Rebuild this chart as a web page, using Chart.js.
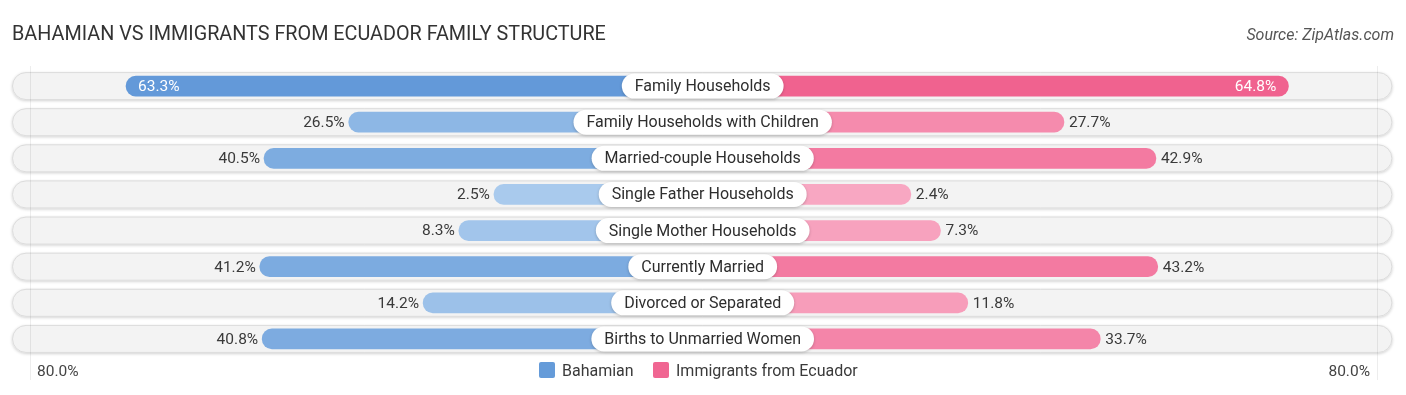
<!DOCTYPE html>
<html>
<head>
<meta charset="utf-8">
<script src="https://cdn.jsdelivr.net/npm/chart.js@4.4.1/dist/chart.umd.min.js"></script>
<style>
  html, body { margin: 0; padding: 0; background: #fff; }
  #wrap { position: relative; width: 1406px; height: 395px; }
</style>
</head>
<body>
<div id="wrap"><canvas id="c" width="1406" height="395"></canvas></div>
<script>
const categories = [
  "Family Households",
  "Family Households with Children",
  "Married-couple Households",
  "Single Father Households",
  "Single Mother Households",
  "Currently Married",
  "Divorced or Separated",
  "Births to Unmarried Women"
];
const bahamian = [63.3, 26.5, 40.5, 2.5, 8.3, 41.2, 14.2, 40.8];
const ecuador  = [64.8, 27.7, 42.9, 2.4, 7.3, 43.2, 11.8, 33.7];
const seriesNames = ["Bahamian", "Immigrants from Ecuador"];
const axisMaxLabel = "80.0%";
const AXIS_MAX = 80;

const TITLE = "BAHAMIAN VS IMMIGRANTS FROM ECUADOR FAMILY STRUCTURE";
const SOURCE = "Source: ZipAtlas.com";

// visual offset: bars start under the centre label
const OFFSET = 32;
const FONT = "Roboto, 'Noto Sans', sans-serif";

function mix(a, b, t) {
  t = Math.max(0, Math.min(1, t));
  return `rgb(${Math.round(a[0] + (b[0] - a[0]) * t)},${Math.round(a[1] + (b[1] - a[1]) * t)},${Math.round(a[2] + (b[2] - a[2]) * t)})`;
}
const blueLight = [172, 204, 238], blueDark = [97, 152, 216];
const pinkLight = [248, 170, 196], pinkDark = [240, 98, 143];
const blueColors = bahamian.map(v => mix(blueLight, blueDark, v / 65));
const pinkColors = ecuador.map(v => mix(pinkLight, pinkDark, v / 65));

function roundRect(ctx, x, y, w, h, r) {
  ctx.beginPath();
  ctx.moveTo(x + r, y);
  ctx.lineTo(x + w - r, y);
  ctx.arc(x + w - r, y + r, r, -Math.PI / 2, 0);
  ctx.lineTo(x + w, y + h - r);
  ctx.arc(x + w - r, y + h - r, r, 0, Math.PI / 2);
  ctx.lineTo(x + r, y + h);
  ctx.arc(x + r, y + h - r, r, Math.PI / 2, Math.PI);
  ctx.lineTo(x, y + r);
  ctx.arc(x + r, y + r, r, Math.PI, Math.PI * 1.5);
  ctx.closePath();
}

const decor = {
  id: 'decor',
  beforeDatasetsDraw(chart) {
    const ctx = chart.ctx;
    const y = chart.scales.y, x = chart.scales.x;
    const left = x.getPixelForValue(-(AXIS_MAX + OFFSET)) - 13;
    const right = x.getPixelForValue(AXIS_MAX + OFFSET) + 12;
    ctx.save();
    categories.forEach((c, i) => {
      const cy = y.getPixelForValue(i);
      const h = 28;
      ctx.save();
      ctx.shadowColor = 'rgba(0,0,0,0.18)';
      ctx.shadowBlur = 3;
      ctx.shadowOffsetY = 1;
      roundRect(ctx, left, cy - h / 2, right - left, h, h / 2);
      ctx.fillStyle = '#f3f3f3';
      ctx.fill();
      ctx.restore();
      roundRect(ctx, left + 0.5, cy - h / 2 + 0.5, right - left - 1, h - 1, h / 2 - 0.5);
      ctx.strokeStyle = '#dcdcdc';
      ctx.lineWidth = 1;
      ctx.stroke();
    });
    // faint vertical guides
    ctx.strokeStyle = 'rgba(0,0,0,0.07)';
    ctx.lineWidth = 1;
    [30.5, 1377.5].forEach(px => {
      ctx.beginPath();
      ctx.moveTo(px, 66);
      ctx.lineTo(px, 380);
      ctx.stroke();
    });
    ctx.restore();
  },
  afterDatasetsDraw(chart) {
    const ctx = chart.ctx;
    const y = chart.scales.y, x = chart.scales.x;
    ctx.save();
    ctx.textBaseline = 'middle';
    categories.forEach((c, i) => {
      const cy = y.getPixelForValue(i);
      // value labels
      ctx.font = `15.5px ${FONT}`;
      const bl = x.getPixelForValue(-(bahamian[i] + OFFSET));
      const er = x.getPixelForValue(ecuador[i] + OFFSET);
      const bt = bahamian[i].toFixed(1) + '%';
      const et = ecuador[i].toFixed(1) + '%';
      if (bahamian[i] > 55) {
        ctx.fillStyle = '#ffffff';
        ctx.textAlign = 'left';
        ctx.fillText(bt, bl + 12, cy + 1);
      } else {
        ctx.fillStyle = '#3a3a3a';
        ctx.textAlign = 'right';
        ctx.fillText(bt, bl - 4, cy + 1);
      }
      if (ecuador[i] > 55) {
        ctx.fillStyle = '#ffffff';
        ctx.textAlign = 'right';
        ctx.fillText(et, er - 12, cy + 1);
      } else {
        ctx.fillStyle = '#3a3a3a';
        ctx.textAlign = 'left';
        ctx.fillText(et, er + 5, cy + 1);
      }
      // centre label pill
      ctx.font = `16px ${FONT}`;
      const cx = x.getPixelForValue(0);
      const tw = ctx.measureText(c).width;
      const w = tw + 26, h = 25;
      ctx.save();
      ctx.shadowColor = 'rgba(0,0,0,0.22)';
      ctx.shadowBlur = 3;
      ctx.shadowOffsetY = 1;
      roundRect(ctx, cx - w / 2, cy - h / 2, w, h, h / 2);
      ctx.fillStyle = '#ffffff';
      ctx.fill();
      ctx.restore();
      ctx.fillStyle = '#2e2e2e';
      ctx.textAlign = 'center';
      ctx.fillText(c, cx, cy + 1);
    });
    ctx.restore();
  },
  afterDraw(chart) {
    const ctx = chart.ctx;
    ctx.save();
    ctx.textBaseline = 'alphabetic';
    // title
    ctx.font = `19.8px ${FONT}`;
    ctx.fillStyle = '#333';
    ctx.textAlign = 'left';
    ctx.fillText(TITLE, 12, 40);
    // source
    ctx.font = `italic 16px ${FONT}`;
    ctx.fillStyle = '#555';
    ctx.textAlign = 'right';
    ctx.fillText(SOURCE, 1394, 40);
    // axis end labels
    ctx.font = `15.5px ${FONT}`;
    ctx.fillStyle = '#444';
    ctx.textAlign = 'left';
    ctx.fillText(axisMaxLabel, 37, 376);
    ctx.textAlign = 'right';
    ctx.fillText(axisMaxLabel, 1370, 376);
    // legend
    const items = [
      { name: seriesNames[0], color: mix(blueLight, blueDark, 0.95), x: 539 },
      { name: seriesNames[1], color: mix(pinkLight, pinkDark, 0.95), x: 653 }
    ];
    ctx.font = `16px ${FONT}`;
    items.forEach(it => {
      roundRect(ctx, it.x, 362, 16, 16, 2);
      ctx.fillStyle = it.color;
      ctx.fill();
      ctx.fillStyle = '#3a3a3a';
      ctx.textAlign = 'left';
      ctx.fillText(it.name, it.x + 23, 376);
    });
    ctx.restore();
  }
};

new Chart(document.getElementById('c'), {
  type: 'bar',
  data: {
    labels: categories,
    datasets: [
      {
        label: seriesNames[0],
        data: bahamian.map(v => -(v + OFFSET)),
        backgroundColor: blueColors,
        borderRadius: 10,
        borderSkipped: false,
        barThickness: 20
      },
      {
        label: seriesNames[1],
        data: ecuador.map(v => v + OFFSET),
        backgroundColor: pinkColors,
        borderRadius: 10,
        borderSkipped: false,
        barThickness: 20
      }
    ]
  },
  options: {
    indexAxis: 'y',
    responsive: false,
    animation: false,
    devicePixelRatio: 1,
    layout: { padding: { left: 25, right: 25.6, top: 68, bottom: 38 } },
    scales: {
      x: { display: false, stacked: true, min: -(AXIS_MAX + OFFSET), max: AXIS_MAX + OFFSET },
      y: { display: false, stacked: true }
    },
    plugins: {
      legend: { display: false },
      title: { display: false },
      tooltip: { enabled: false }
    }
  },
  plugins: [decor]
});
</script>
</body>
</html>
